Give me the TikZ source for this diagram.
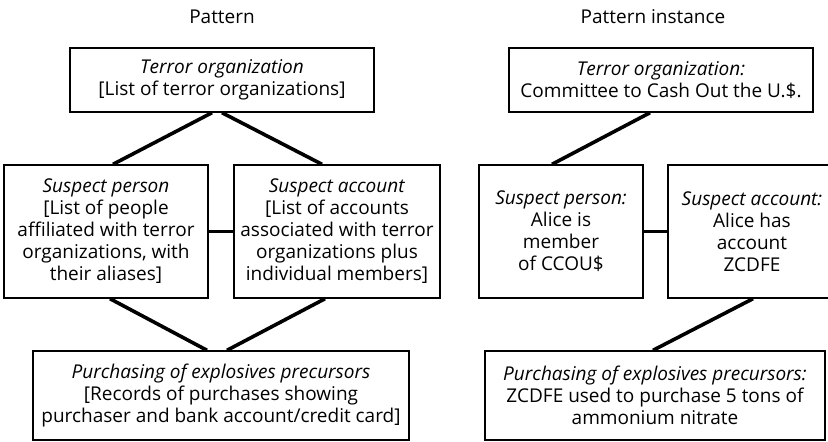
\documentclass[tikz,border=0pt]{standalone}
\usepackage{fontspec}
\setmainfont{Open Sans}
\usetikzlibrary{calc}
\begin{document}
\begin{tikzpicture}[x=1pt,y=-1pt,
  every node/.style={font=\fontsize{19}{22}\selectfont, align=center},
  box/.style={draw, line width=1.4pt, inner sep=0pt},
  link/.style={line width=3.6pt},
  title/.style={inner sep=0pt}]
\useasboundingbox (0,0) rectangle (828,442);
\clip (0,0) rectangle (828,442);

% column titles
\node[title] (t1) at (222,17) {Pattern};
\node[title] (t2) at (653,17) {Pattern instance};

% pattern boxes
\node[box, minimum width=304, minimum height=64] (lt) at (222,80)
  {\textit{Terror organization}\\{}[List of terror organizations]};
\node[box, minimum width=204, minimum height=133] (lp) at (106,231.5)
  {\textit{Suspect person}\\{}[List of people\\affiliated with terror\\organizations, with\\their aliases]};
\node[box, minimum width=206, minimum height=133] (la) at (337,231.5)
  {\textit{Suspect account}\\{}[List of accounts\\associated with terror\\organizations plus\\individual members]};
\node[box, minimum width=376, minimum height=89] (lb) at (221,395.5)
  {\textit{Purchasing of explosives precursors}\\{}[Records of purchases showing\\purchaser and bank account/credit card]};

% instance boxes
\node[box, minimum width=304, minimum height=64] (rt) at (661,80)
  {\textit{Terror organization:}\\Committee to Cash Out the U.\$.};
\node[box, minimum width=164, minimum height=133] (rp) at (561,231.5)
  {\textit{Suspect person:}\\Alice is\\member\\of CCOU\$};
\node[box, minimum width=168, minimum height=133] (ra) at (752,231.5)
  {\textit{Suspect account:}\\Alice has\\account\\ZCDFE};
\node[box, minimum width=340, minimum height=89] (rb) at (655,395.5)
  {\textit{Purchasing of explosives precursors:}\\ZCDFE used to purchase 5 tons of\\ammonium nitrate};

% pattern links
\draw[link] ($(lt.south)+(-10,0)$) -- ($(lp.north)+(7,0)$);
\draw[link] ($(lt.south)+(0,0)$) -- ($(la.north)+(-15,0)$);
\draw[link] (lp.east) -- (la.west);
\draw[link] ($(lp.south)+(4,0)$) -- ($(lb.north)+(-14,0)$);
\draw[link] ($(la.south)+(-12,0)$) -- ($(lb.north)+(6,0)$);

% instance links
\draw[link] ($(rt.south)+(-11,0)$) -- ($(rp.north)+(-9,0)$);
\draw[link] (rp.east) -- (ra.west);
\draw[link] ($(ra.south)+(1,0)$) -- ($(rb.north)+(-2,0)$);
\end{tikzpicture}
\end{document}
